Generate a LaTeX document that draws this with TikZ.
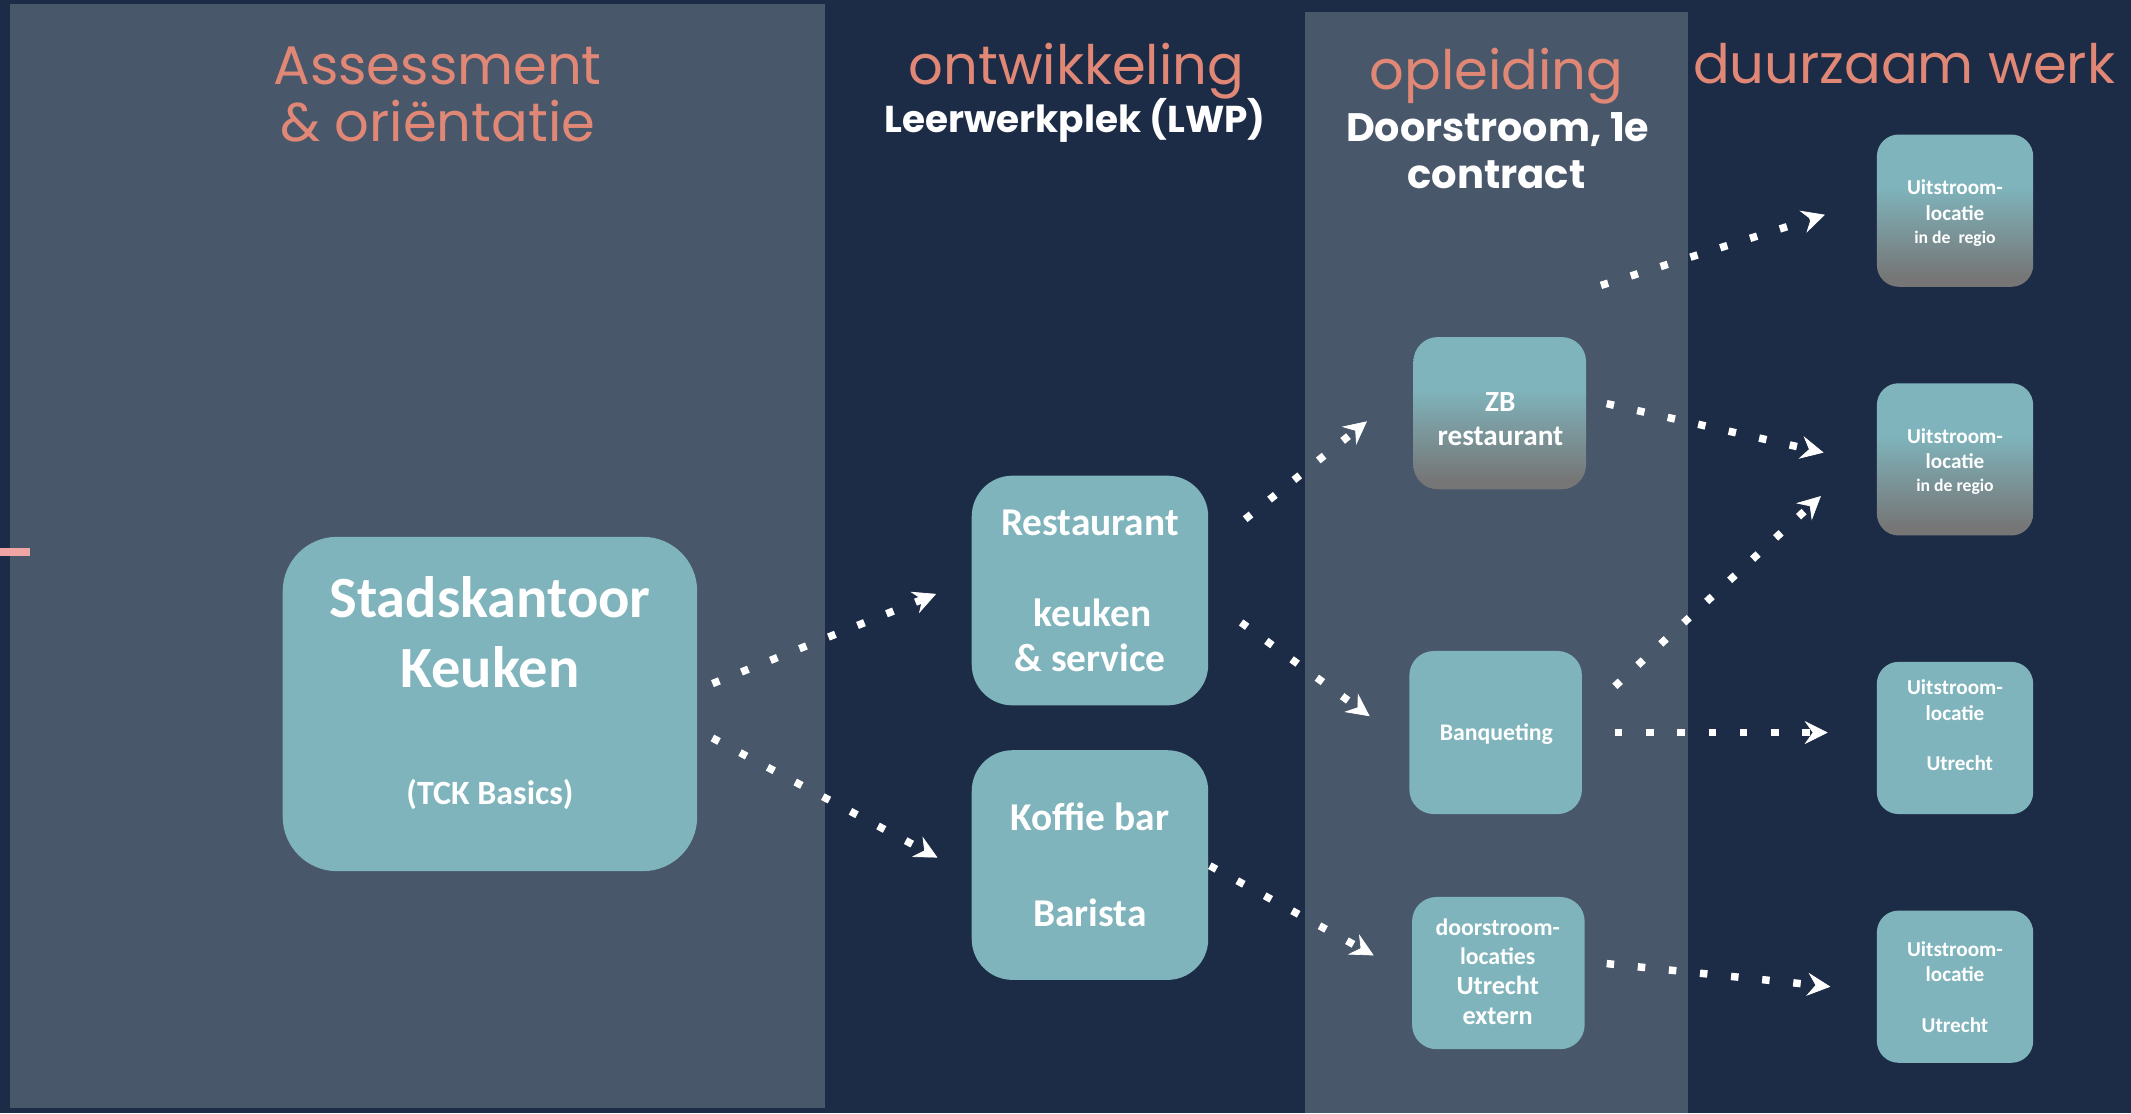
\documentclass[tikz,border=0pt]{standalone}
\usepackage{fontspec}
\setmainfont{Carlito}
\newfontfamily\pop{Poppins}
\usetikzlibrary{arrows.meta}
\definecolor{navy}{RGB}{29,44,70}
\definecolor{panel}{RGB}{72,87,106}
\definecolor{tealc}{RGB}{127,180,188}
\definecolor{grayb}{RGB}{118,118,118}
\definecolor{salmon}{RGB}{225,135,118}
\definecolor{pinkm}{RGB}{240,165,165}
\pgfdeclareverticalshading{tealgray}{100bp}{color(0bp)=(grayb); color(28bp)=(grayb); color(58bp)=(tealc); color(100bp)=(tealc)}
\begin{document}
\begin{tikzpicture}[x=1pt,y=-1pt,
  tbox/.style={rectangle, rounded corners=#1, fill=tealc, inner sep=0pt},
  gbox/.style={rectangle, rounded corners=#1, shade, shading=tealgray, inner sep=0pt},
  txt/.style={anchor=base, text=white, inner sep=0pt, font=\bfseries\fontsize{#1}{#1}\selectfont},
  ttl/.style={anchor=base, text=salmon, inner sep=0pt, font=\pop\fontsize{#1}{#1}\selectfont},
  sub/.style={anchor=base, text=white, inner sep=0pt, font=\pop\bfseries\fontsize{#1}{#1}\selectfont},
  arr/.style={white, line width=5.5pt, dash pattern=on 5.5pt off 17.5pt,
    -{Stealth[length=17pt,width=17pt,inset=6pt,line width=0.5pt]}}]
\useasboundingbox (0,0) rectangle (1568,819);
% background and panels
\fill[navy] (0,0) rectangle (1568,819);
\fill[panel] (7,3) rectangle (607,815);
\fill[panel] (960,9) rectangle (1242,819);
\fill[pinkm] (0,403) rectangle (22,409);
% titles
\node[ttl=40] (t1) at (322,62.5) {Assessment};
\node[ttl=40] (t2) at (322,104) {\& oriëntatie};
\node[ttl=40] (t3) at (792,62.5) {ontwikkeling};
\node[sub=27.5] (t4) at (791,97.6) {Leerwerkplek (LWP)};
\node[ttl=40] (t5) at (1101,66) {opleiding};
\node[sub=29.2] (t6) at (1102,104) {Doorstroom, 1e};
\node[sub=29.5] (t7) at (1101,139) {contract};
\node[ttl=40] (t8) at (1401,61.3) {duurzaam werk};
% boxes
\node[tbox=40pt, minimum width=305pt, minimum height=246pt] (stad) at (360.5,518) {};
\node[tbox=30pt, minimum width=174pt, minimum height=169pt] (rest) at (802,434.5) {};
\node[tbox=30pt, minimum width=174pt, minimum height=169pt] (koffie) at (802,636.5) {};
\node[gbox=18pt, minimum width=127pt, minimum height=112pt] (zb) at (1103.5,304) {};
\node[tbox=18pt, minimum width=127pt, minimum height=120pt] (banq) at (1100.5,539) {};
\node[tbox=18pt, minimum width=127pt, minimum height=112pt] (door) at (1102.5,716) {};
\node[gbox=16pt, minimum width=115pt, minimum height=112pt] (u1) at (1438.5,155) {};
\node[gbox=16pt, minimum width=115pt, minimum height=112pt] (u2) at (1438.5,338) {};
\node[tbox=16pt, minimum width=115pt, minimum height=112pt] (u3) at (1438.5,543) {};
\node[tbox=16pt, minimum width=115pt, minimum height=112pt] (u4) at (1438.5,726) {};
% box texts
\node[txt=43] (s1) at (360.5,454) {Stadskantoor};
\node[txt=43] (s2) at (360.5,506) {Keuken};
\node[txt=25] (s3) at (360.5,592) {(TCK Basics)};
\node[txt=29] (r1) at (802,394) {Restaurant};
\node[txt=29] (r2) at (804,461) {keuken};
\node[txt=29] (r3) at (802,494) {\& service};
\node[txt=29] (k1) at (802,611) {Koffie bar};
\node[txt=29] (k2) at (802,682) {Barista};
\node[txt=21.5] (z1) at (1104,303) {ZB};
\node[txt=21.5] (z2) at (1104,328) {restaurant};
\node[txt=17.5] (b1) at (1101,545) {Banqueting};
\node[txt=17.5] (d1) at (1102,688) {doorstroom-};
\node[txt=17.5] (d2) at (1102,710) {locaties};
\node[txt=19.3] (d3) at (1102,732) {Utrecht};
\node[txt=19.3] (d4) at (1102,754) {extern};
\node[txt=15.6] (a1) at (1438.5,143) {Uitstroom-};
\node[txt=15.6] (a2) at (1438.5,162) {locatie};
\node[txt=13] (a3) at (1438.5,179) {in de~~regio};
\node[txt=15.6] (b21) at (1438.5,326) {Uitstroom-};
\node[txt=15.6] (b22) at (1438.5,345) {locatie};
\node[txt=13] (b23) at (1438.5,362) {in de regio};
\node[txt=15.6] (c1) at (1438.5,511) {Uitstroom-};
\node[txt=15.6] (c2) at (1438.5,530) {locatie};
\node[txt=15.6] (c3) at (1442,567) {Utrecht};
\node[txt=15.6] (e1) at (1438.5,704) {Uitstroom-};
\node[txt=15.6] (e2) at (1438.5,722) {locatie};
\node[txt=15.6] (e3) at (1438.5,760) {Utrecht};
% connectors
\coordinate (free) at (1178,210);
\draw[arr] ([shift={(11,-15)}]stad.east) -- ([shift={(-26,2.5)}]rest.west);
\draw[arr] ([shift={(11,25)}]stad.east) -- ([shift={(-25,-5.5)}]koffie.west);
\draw[arr] ([shift={(27,-52.5)}]rest.east) -- ([shift={(-34,6)}]zb.west);
\draw[arr] ([shift={(24,23.5)}]rest.east) -- ([shift={(-29,-12)}]banq.west);
\draw[arr] ([shift={(1,0.5)}]koffie.east) -- ([shift={(-28,-13)}]door.west);
\draw[arr] (free) -- ([shift={(-38,3)}]u1.west);
\draw[arr] ([shift={(15,-7)}]zb.east) -- ([shift={(-39,-5)}]u2.west);
\draw[arr] ([shift={(24,-34)}]banq.east) -- ([shift={(-41,27)}]u2.west);
\draw[arr] ([shift={(24,0)}]banq.east) -- ([shift={(-36,-4)}]u3.west);
\draw[arr] ([shift={(16,-7)}]door.east) -- ([shift={(-34,0)}]u4.west);
\end{tikzpicture}
\end{document}
